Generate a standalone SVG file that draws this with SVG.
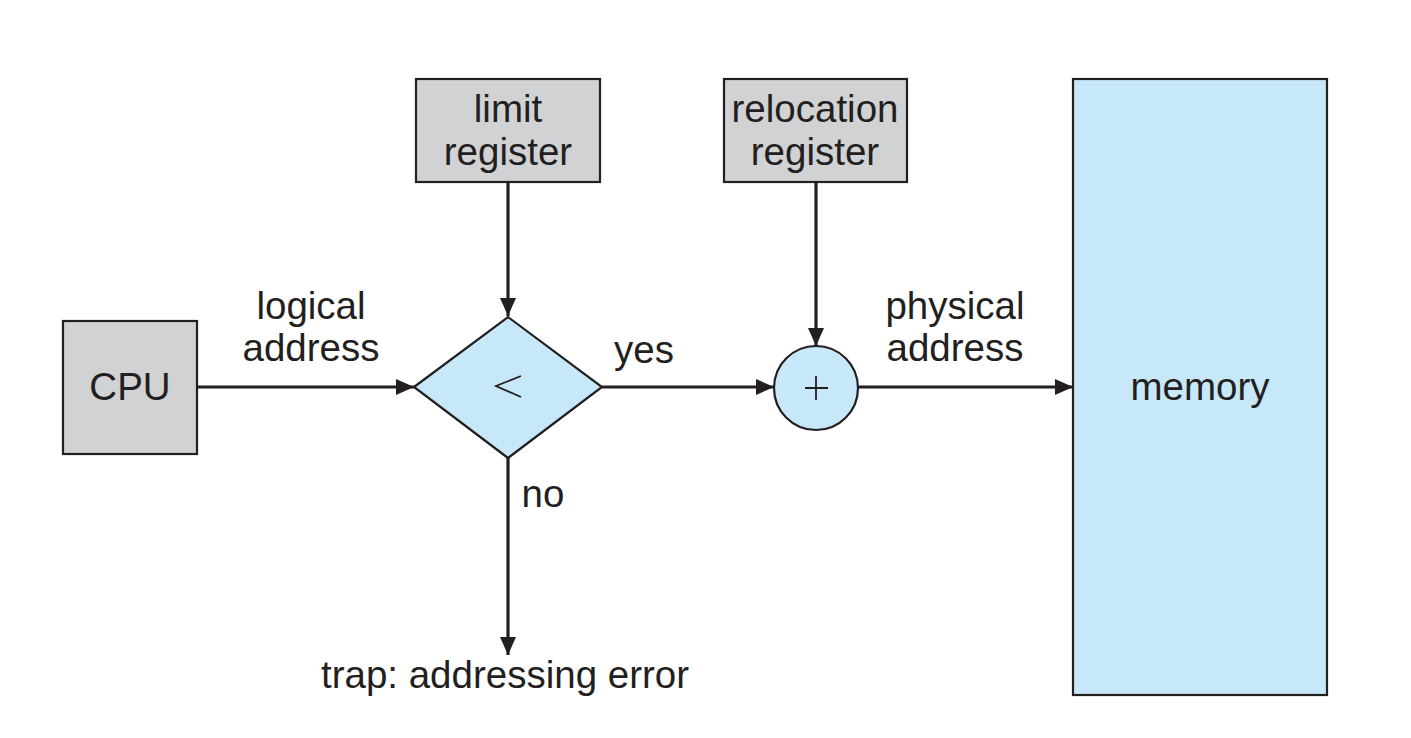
<svg xmlns="http://www.w3.org/2000/svg" width="1411" height="738" viewBox="0 0 1411 738">
<style>
.box{fill:#d1d2d4;stroke:#231f20;stroke-width:2.2}
.blue{fill:#c7e8f8;stroke:#231f20;stroke-width:2.2}
.t{font-family:"Liberation Sans",Arial,sans-serif;font-size:38.5px;fill:#231f20;text-anchor:middle}
.ln{stroke:#231f20;stroke-width:3.2;fill:none}
.op{stroke:#231f20;stroke-width:1.8;fill:none}
</style>
<defs>
<marker id="ah" markerWidth="18" markerHeight="16" refX="18" refY="8" orient="auto" markerUnits="userSpaceOnUse">
<path d="M0,0 L18,8 L0,16 Z" fill="#231f20"/>
</marker>
</defs>
<rect width="1411" height="738" fill="#ffffff"/>
<g id="connectors">
<line class="ln" x1="197" y1="387" x2="414" y2="387" marker-end="url(#ah)"/>
<line class="ln" x1="508" y1="182" x2="508" y2="316" marker-end="url(#ah)"/>
<line class="ln" x1="602" y1="387" x2="774" y2="387" marker-end="url(#ah)"/>
<line class="ln" x1="816" y1="182" x2="816" y2="346" marker-end="url(#ah)"/>
<line class="ln" x1="858" y1="387" x2="1073" y2="387" marker-end="url(#ah)"/>
<line class="ln" x1="508" y1="458" x2="508" y2="655" marker-end="url(#ah)"/>
<text class="t" x="311" y="319">logical</text>
<text class="t" x="311" y="361">address</text>
<text class="t" x="644" y="363">yes</text>
<text class="t" x="543" y="507">no</text>
<text class="t" x="955" y="319">physical</text>
<text class="t" x="955" y="361">address</text>
<text class="t" x="505" y="688">trap: addressing error</text>
</g>
<g id="cpu">
<rect class="box" x="63" y="321" width="134" height="133"/>
<text class="t" x="130" y="400">CPU</text>
</g>
<g id="limit-register">
<rect class="box" x="416" y="79" width="184" height="103"/>
<text class="t" x="508" y="122">limit</text>
<text class="t" x="508" y="165">register</text>
</g>
<g id="relocation-register">
<rect class="box" x="724" y="79" width="183" height="103"/>
<text class="t" x="815" y="122">relocation</text>
<text class="t" x="815" y="165">register</text>
</g>
<g id="compare">
<polygon class="blue" points="414,387 508,317 602,387 508,458"/>
<path class="op" d="M521,376 L496,386 L521,397"/>
</g>
<g id="adder">
<circle class="blue" cx="816" cy="388" r="42"/>
<path class="op" d="M805,388 L828,388 M816,376 L816,400"/>
</g>
<g id="memory">
<rect class="blue" x="1073" y="79" width="254" height="616"/>
<text class="t" x="1200" y="400">memory</text>
</g>
</svg>
